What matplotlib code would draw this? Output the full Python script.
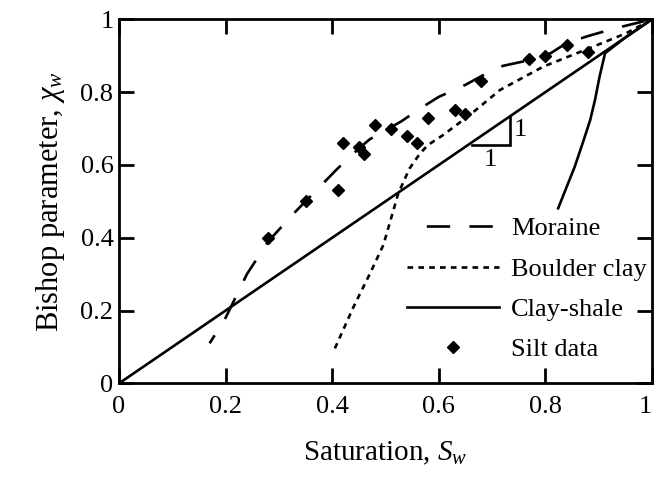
import matplotlib
matplotlib.use("Agg")
from matplotlib import pyplot as plt
from matplotlib.lines import Line2D

plt.rcParams["font.family"] = ["Liberation Serif", "DejaVu Serif"]
plt.rcParams["mathtext.fontset"] = "custom"
plt.rcParams["mathtext.rm"] = "Liberation Serif"
plt.rcParams["mathtext.it"] = "Liberation Serif:italic"
plt.rcParams["lines.scale_dashes"] = False

# Moraine (long dashes)
moraine_s = [0.17, 0.20, 0.24, 0.28, 0.33, 0.37, 0.41, 0.45, 0.47, 0.53, 0.565,
             0.60, 0.65, 0.69, 0.72, 0.78, 0.81, 0.84, 0.88, 0.93, 1.0]
moraine_x = [0.11, 0.18, 0.30, 0.39, 0.47, 0.53, 0.59, 0.645, 0.67, 0.72, 0.755,
             0.787, 0.82, 0.852, 0.872, 0.891, 0.907, 0.935, 0.954, 0.975, 1.0]

# Boulder clay (dotted)
boulder_s = [0.405, 0.44, 0.471, 0.496, 0.524, 0.545, 0.565, 0.58, 0.608, 0.658,
             0.715, 0.796, 0.89, 0.952, 1.0]
boulder_x = [0.096, 0.21, 0.302, 0.38, 0.522, 0.59, 0.632, 0.655, 0.682, 0.737,
             0.806, 0.870, 0.925, 0.962, 1.0]

# Clay-shale (solid curve)
shale_s = [0.824, 0.84, 0.855, 0.87, 0.884, 0.893, 0.902, 0.912, 0.95, 1.0]
shale_x = [0.481, 0.54, 0.595, 0.66, 0.723, 0.778, 0.845, 0.907, 0.95, 1.0]

# Silt data points
silt_s = [0.28, 0.35, 0.41, 0.42, 0.45, 0.46, 0.48, 0.51, 0.54, 0.56, 0.58,
          0.63, 0.65, 0.68, 0.77, 0.80, 0.84, 0.88]
silt_x = [0.40, 0.50, 0.53, 0.66, 0.65, 0.63, 0.71, 0.70, 0.68, 0.66, 0.73,
          0.75, 0.74, 0.83, 0.89, 0.90, 0.93, 0.91]

# 1:1 line and slope triangle
unity = [0, 1]
tri_s = [0.662, 0.734, 0.734]
tri_x = [0.655, 0.655, 0.732]

ticks = [0, 0.2, 0.4, 0.6, 0.8, 1]
tick_labels = ["0", "0.2", "0.4", "0.6", "0.8", "1"]
names = ["Moraine", "Boulder clay", "Clay-shale", "Silt data"]

fig = plt.figure(figsize=(6.55, 4.78), dpi=100)
ax = fig.add_axes([0.1817, 0.198, 0.8137, 0.7616])

lw = 1.9
long_dash = (16.8, 13.9)
short_dash = (0, (4.1, 3.7))
ax.plot(moraine_s, moraine_x, color="black", lw=lw,
        linestyle=(10.0, long_dash))
ax.plot(boulder_s, boulder_x, color="black", lw=lw, linestyle=short_dash)
ax.plot(shale_s, shale_x, color="black", lw=lw)
ax.plot(silt_s, silt_x, linestyle="none", marker="D", ms=6.5, color="black")
ax.plot(unity, unity, color="black", lw=lw)
ax.plot(tri_s, tri_x, color="black", lw=lw, solid_joinstyle="miter")
ax.text(0.741, 0.695, "1", fontsize=19, ha="left", va="center")
ax.text(0.697, 0.643, "1", fontsize=19, ha="center", va="top")

ax.set_xlim(0, 1)
ax.set_ylim(0, 1)
ax.set_xticks(ticks)
ax.set_xticklabels(tick_labels)
ax.set_yticks(ticks)
ax.set_yticklabels(tick_labels)
ax.tick_params(axis="both", direction="in", length=11, width=2,
               top=True, right=True, labelsize=19)
ax.tick_params(axis="x", pad=9)
ax.tick_params(axis="y", pad=4)
ax.get_xticklabels()[-1].set_horizontalalignment("right")
for sp in ax.spines.values():
    sp.set_linewidth(2)

ax.set_xlabel("Saturation, $S_w$", fontsize=21, labelpad=16)
ax.set_ylabel("Bishop parameter, $\\chi_w$", fontsize=22, labelpad=10)

handles = [
    Line2D([], [], color="black", lw=lw, linestyle=(16.8, long_dash)),
    Line2D([], [], color="black", lw=lw, linestyle=short_dash),
    Line2D([], [], color="black", lw=lw),
    Line2D([], [], color="black", linestyle="none", marker="D", ms=6.5),
]
ax.legend(handles, names, loc="center left", bbox_to_anchor=(0.621, 0.395),
          bbox_transform=fig.transFigure, frameon=False, fontsize=19,
          handlelength=3.5, handletextpad=0.45, labelspacing=0.64,
          borderpad=0, borderaxespad=0)

fig.savefig("out.png", dpi=100)
